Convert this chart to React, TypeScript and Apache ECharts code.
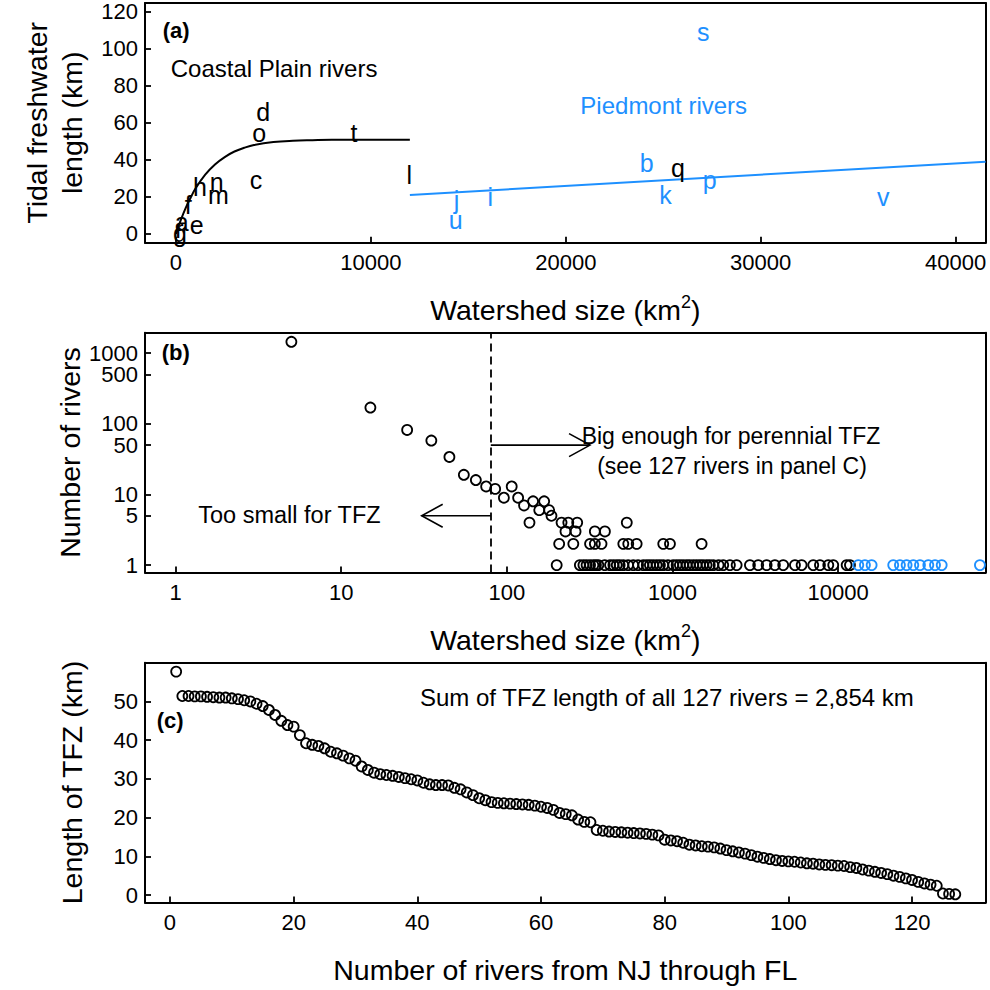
import React, { useEffect, useRef } from "react";
import * as echarts from "echarts";

const FONT = "'Liberation Sans', Arial, Helvetica, sans-serif";
const BLUE = "#1E90FF";

// ---------- Panel (a): tidal freshwater length vs watershed size ----------
const coastalLetters = ["a", "c", "d", "e", "f", "g", "h", "l", "m", "n", "o", "q", "r", "t"];
const coastalArea = [292, 4105, 4479, 1062, 631, 205, 1231, 11970, 2170, 2088, 4274, 25757, 170, 9133];
const coastalTfz = [6.6, 29.1, 66.1, 4.8, 15.6, 0.5, 25.5, 31.8, 21.0, 28.2, 54.4, 35.5, 2.5, 54.4];

const piedmontLetters = ["b", "i", "j", "k", "p", "s", "u", "v"];
const piedmontArea = [24150, 16131, 14392, 25116, 27378, 27050, 14351, 36285];
const piedmontTfz = [38.2, 20.1, 18.3, 21.0, 29.1, 109.3, 7.5, 20.1];

const coastalFitArea = [0, 250, 500, 750, 1000, 1500, 2000, 2500, 3000, 3500, 4000, 5000, 6000, 7000, 8000, 10000, 12000];
const coastalFitTfz = [0, 7.5, 14, 19.5, 24.5, 32, 37.5, 41.5, 44.5, 46.5, 48, 49.6, 50.3, 50.6, 50.8, 50.8, 50.8];
const piedmontFitArea = [12000, 41540];
const piedmontFitTfz = [21.0, 39.0];

const aXTicks = [0, 10000, 20000, 30000, 40000];
const aYTicks = [0, 20, 40, 60, 80, 100, 120];

// ---------- Panel (b): number of rivers vs watershed size (log-log) ----------
const blackSize = [
  5, 15, 25, 35, 45, 55, 65, 75, 85, 107, 96, 117, 127, 144, 168, 157, 180, 186,
  137, 214, 235, 266, 530, 226, 260, 340, 391,
  207, 252, 318, 340, 373, 505, 541, 608, 880, 966, 1500,
  200, 276, 290, 303, 318, 333, 345, 357, 390, 420, 440, 461, 480, 505, 540, 580, 620,
  667, 700, 731, 765, 803, 840, 880, 940, 1011, 1060, 1109, 1160, 1218, 1270, 1336,
  1400, 1466, 1530, 1608, 1680, 1764, 1900, 2026, 2223, 2441, 2937, 3296, 3704, 4156,
  4665, 5492, 6026, 7082, 7776, 8730, 9352, 11270, 11800,
];
const blackCount = [
  1450, 170, 82, 58, 34, 19, 16, 13, 12, 13, 9, 9, 7, 8, 8, 6, 6, 5,
  4, 4, 4, 4, 4, 3, 3, 3, 3,
  2, 2, 2, 2, 2, 2, 2, 2, 2, 2, 2,
  1, 1, 1, 1, 1, 1, 1, 1, 1, 1, 1, 1, 1, 1, 1, 1, 1,
  1, 1, 1, 1, 1, 1, 1, 1, 1, 1, 1, 1, 1, 1, 1,
  1, 1, 1, 1, 1, 1, 1, 1, 1, 1, 1, 1, 1, 1,
  1, 1, 1, 1, 1, 1, 1, 1, 1,
];
const blueSize = [13250, 14530, 15950, 21540, 23640, 25940, 28470, 31240, 35080, 38500, 42250, 71900];
const blueCount = [1, 1, 1, 1, 1, 1, 1, 1, 1, 1, 1, 1];

const bXTicks = [1, 10, 100, 1000, 10000];
const bYTicks = [1, 5, 10, 50, 100, 500, 1000];
const bYLabelsLow = [1, 5, 10, 50, 100, 500];
const bYLabelsTop = [1000];
const tfzThreshold = 80;
const arrowFrom = [80, 80];
const arrowTo = [318, 30.6];
const arrowAt = [50, 5];

// ---------- Panel (c): TFZ length of 127 rivers ----------
const tfzLength = [
  57.7, 51.4, 51.4, 51.3, 51.3, 51.2, 51.1, 51.0, 51.0, 50.8,
  50.6, 50.3, 50.0, 49.4, 48.8, 47.8, 46.5, 45.0, 43.9, 43.5,
  41.3, 39.2, 38.8, 38.5, 37.9, 37.0, 36.6, 36.0, 35.3, 34.7,
  33.2, 32.3, 31.6, 31.2, 31.0, 30.8, 30.5, 30.2, 29.9, 29.6,
  29.0, 28.6, 28.4, 28.4, 28.3, 27.7, 27.3, 26.5, 25.8, 25.0,
  24.5, 24.0, 23.8, 23.7, 23.6, 23.5, 23.4, 23.3, 23.1, 22.8,
  22.5, 22.0, 21.2, 20.9, 20.6, 19.5, 18.9, 18.8, 16.8, 16.6,
  16.4, 16.3, 16.2, 16.1, 16.0, 15.9, 15.8, 15.6, 15.4, 14.3,
  14.1, 13.9, 13.5, 13.0, 12.8, 12.6, 12.5, 12.3, 12.0, 11.6,
  11.3, 11.0, 10.7, 10.3, 9.9, 9.6, 9.3, 9.0, 8.8, 8.7,
  8.6, 8.4, 8.2, 8.1, 7.9, 7.8, 7.7, 7.6, 7.5, 7.2,
  7.0, 6.6, 6.3, 6.0, 5.7, 5.4, 5.0, 4.7, 4.3, 3.9,
  3.4, 3.0, 2.7, 2.4, 0.4, 0.3, 0.2,
];
const cXTicks = [0, 20, 40, 60, 80, 100, 120];
const cYTicks = [0, 10, 20, 30, 40, 50];

const log10 = (v: number) => Math.log10(v);

export default function App() {
  const ref = useRef<HTMLDivElement>(null);

  useEffect(() => {
    if (!ref.current) return;
    const chart = echarts.init(ref.current, null, { renderer: "svg" });

    const axisLine = { show: true, onZero: false, lineStyle: { color: "#000", width: 2 } };
    const tick = (values: number[]) => ({
      show: true,
      inside: true,
      length: 6,
      customValues: values,
      lineStyle: { color: "#000", width: 1.8 },
    });
    const label = (values: number[], fmt?: (v: number) => string, margin = 8) => ({
      show: true,
      customValues: values,
      hideOverlap: false,
      showMinLabel: true,
      showMaxLabel: true,
      color: "#000",
      fontFamily: FONT,
      fontSize: 22,
      margin,
      formatter: fmt,
    });
    const nameStyle = {
      color: "#000",
      fontFamily: FONT,
      fontSize: 28.5,
      lineHeight: 35,
      rich: { sup: { fontSize: 18, verticalAlign: "top", fontFamily: FONT, color: "#000" } },
    };
    const gridBase = { left: 145, width: 840.6, height: 239.7, containLabel: false };
    const circle = { symbol: "circle", symbolSize: 10 };
    const powFmt = (v: number) => String(Math.round(Math.pow(10, v)));

    // frame axes (top and right sides of each box)
    const frameX = (gi: number, min: number, max: number) => ({
      type: "value",
      gridIndex: gi,
      position: "top",
      min,
      max,
      axisLine,
      axisTick: { show: false },
      axisLabel: { show: false },
      splitLine: { show: false },
    });
    const frameY = (gi: number, min: number, max: number) => ({
      type: "value",
      gridIndex: gi,
      position: "right",
      min,
      max,
      axisLine,
      axisTick: { show: false },
      axisLabel: { show: false },
      splitLine: { show: false },
    });
    const named = (name: string, gap: number) => ({
      name,
      nameLocation: "middle",
      nameGap: gap,
      nameMoveOverlap: false,
      nameTextStyle: nameStyle,
    });

    const option: any = {
      animation: false,
      backgroundColor: "#fff",
      grid: [
        { ...gridBase, top: 3 },
        { ...gridBase, top: 332.7 },
        { ...gridBase, top: 662.7 },
      ],
      xAxis: [
        {
          type: "value",
          gridIndex: 0,
          position: "bottom",
          min: -1590,
          max: 41540,
          axisLine,
          splitLine: { show: false },
          axisTick: tick(aXTicks),
          axisLabel: label(aXTicks, (v: number) => String(v), 9),
          ...named("Watershed size (km{sup|2})", 50),
        },
        {
          type: "value",
          gridIndex: 1,
          position: "bottom",
          min: -0.185,
          max: 4.891,
          axisLine,
          splitLine: { show: false },
          axisTick: tick(bXTicks.map(log10)),
          axisLabel: label(bXTicks.map(log10), powFmt, 9),
          ...named("Watershed size (km{sup|2})", 50),
        },
        {
          type: "value",
          gridIndex: 2,
          position: "bottom",
          min: -4.04,
          max: 131.9,
          axisLine,
          splitLine: { show: false },
          axisTick: tick(cXTicks),
          axisLabel: label(cXTicks, (v: number) => String(v), 9),
          ...named("Number of rivers from NJ through FL", 50),
        },
        frameX(0, -1590, 41540),
        frameX(1, -0.185, 4.891),
        frameX(2, -4.04, 131.9),
      ],
      yAxis: [
        {
          type: "value",
          gridIndex: 0,
          position: "left",
          min: -4.8,
          max: 124.8,
          axisLine,
          splitLine: { show: false },
          axisTick: tick(aYTicks),
          axisLabel: label(aYTicks, (v: number) => String(v), 7),
          ...named("Tidal freshwater\nlength (km)", 56),
        },
        {
          type: "value",
          gridIndex: 1,
          position: "left",
          min: -0.103,
          max: 3.29,
          axisLine,
          splitLine: { show: false },
          axisTick: tick(bYTicks.map(log10)),
          axisLabel: label(bYLabelsLow.map(log10), powFmt, 7),
          ...named("Number of rivers", 58),
        },
        {
          type: "value",
          gridIndex: 2,
          position: "left",
          min: -1.9,
          max: 60.0,
          axisLine,
          splitLine: { show: false },
          axisTick: tick(cYTicks),
          axisLabel: label(cYTicks, (v: number) => String(v), 7),
          ...named("Length of TFZ (km)", 56),
        },
        frameY(0, -4.8, 124.8),
        frameY(1, -0.103, 3.29),
        frameY(2, -1.9, 60.0),
        {
          // second label layer for the top label of panel (b), so both 500 and 1000 show
          type: "value",
          gridIndex: 1,
          position: "left",
          offset: 0,
          min: -0.103,
          max: 3.29,
          axisLine: { show: false, onZero: false },
          axisTick: { show: false },
          splitLine: { show: false },
          axisLabel: label(bYLabelsTop.map(log10), powFmt, 7),
        },
      ],
      series: [
        // Panel a: fitted curves
        {
          type: "line",
          xAxisIndex: 0,
          yAxisIndex: 0,
          data: coastalFitArea.map((x, i) => [x, coastalFitTfz[i]]),
          smooth: 0.4,
          showSymbol: false,
          symbol: "none",
          lineStyle: { color: "#000", width: 2 },
          z: 2,
        },
        {
          type: "line",
          xAxisIndex: 0,
          yAxisIndex: 0,
          data: piedmontFitArea.map((x, i) => [x, piedmontFitTfz[i]]),
          showSymbol: false,
          symbol: "none",
          lineStyle: { color: BLUE, width: 2 },
          z: 2,
        },
        // Panel a: river letters
        {
          type: "scatter",
          xAxisIndex: 0,
          yAxisIndex: 0,
          symbolSize: 0,
          itemStyle: { opacity: 1 },
          data: coastalArea.map((x, i) => [x, coastalTfz[i], coastalLetters[i]]),
          label: {
            show: true,
            position: "inside",
            formatter: (p: any) => p.value[2],
            fontFamily: FONT,
            fontSize: 25,
            color: "#000",
            textBorderWidth: 0,
          },
          z: 3,
        },
        {
          type: "scatter",
          xAxisIndex: 0,
          yAxisIndex: 0,
          symbolSize: 0,
          itemStyle: { opacity: 1 },
          data: piedmontArea.map((x, i) => [x, piedmontTfz[i], piedmontLetters[i]]),
          label: {
            show: true,
            position: "inside",
            formatter: (p: any) => p.value[2],
            fontFamily: FONT,
            fontSize: 25,
            color: BLUE,
            textBorderWidth: 0,
          },
          z: 3,
        },
        // Panel b
        {
          type: "scatter",
          xAxisIndex: 1,
          yAxisIndex: 1,
          ...circle,
          data: blackSize.map((x, i) => [log10(x), log10(blackCount[i])]),
          itemStyle: { color: "rgba(0,0,0,0)", borderColor: "#000", borderWidth: 1.8, opacity: 1 },
          markLine: {
            silent: true,
            symbol: ["none", "none"],
            label: { show: false },
            lineStyle: { color: "#000", width: 1.8, type: [8, 5] },
            data: [{ xAxis: log10(tfzThreshold) }],
          },
        },
        {
          type: "scatter",
          xAxisIndex: 1,
          yAxisIndex: 1,
          ...circle,
          data: blueSize.map((x, i) => [log10(x), log10(blueCount[i])]),
          itemStyle: { color: "rgba(0,0,0,0)", borderColor: BLUE, borderWidth: 1.8, opacity: 1 },
        },
        {
          type: "custom",
          xAxisIndex: 1,
          yAxisIndex: 1,
          data: arrowFrom.map((x, i) => [log10(x), log10(arrowAt[i]), log10(arrowTo[i])]),
          renderItem: (params: any, api: any) => {
            const y = api.value(1);
            const p1 = api.coord([api.value(0), y]);
            const p2 = api.coord([api.value(2), y]);
            const dir = Math.sign(p2[0] - p1[0]);
            const hl = 21;
            const hw = 11.5;
            return {
              type: "group",
              children: [
                {
                  type: "line",
                  shape: { x1: p1[0], y1: p1[1], x2: p2[0], y2: p2[1] },
                  style: { stroke: "#000", lineWidth: 1.6 },
                },
                {
                  type: "polyline",
                  shape: {
                    points: [
                      [p2[0] - dir * hl, p2[1] - hw],
                      [p2[0], p2[1]],
                      [p2[0] - dir * hl, p2[1] + hw],
                    ],
                  },
                  style: { stroke: "#000", fill: "none", lineWidth: 1.6 },
                },
              ],
            };
          },
        },
        // Panel c
        {
          type: "scatter",
          xAxisIndex: 2,
          yAxisIndex: 2,
          ...circle,
          data: tfzLength.map((v, i) => [i + 1, v]),
          itemStyle: { color: "rgba(0,0,0,0)", borderColor: "#000", borderWidth: 1.8, opacity: 1 },
        },
      ],
      graphic: [
        { type: "text", x: 162.7, y: 30, style: { text: "(a)", fontFamily: FONT, fontSize: 22, fontWeight: "bold", fill: "#000", align: "left", verticalAlign: "middle" } },
        { type: "text", x: 170.7, y: 68, style: { text: "Coastal Plain rivers", fontFamily: FONT, fontSize: 24, fill: "#000", align: "left", verticalAlign: "middle" } },
        { type: "text", x: 663.7, y: 105, style: { text: "Piedmont rivers", fontFamily: FONT, fontSize: 24, fill: BLUE, align: "center", verticalAlign: "middle" } },
        { type: "text", x: 161.7, y: 352, style: { text: "(b)", fontFamily: FONT, fontSize: 22, fontWeight: "bold", fill: "#000", align: "left", verticalAlign: "middle" } },
        { type: "text", x: 731, y: 436, style: { text: "Big enough for perennial TFZ", fontFamily: FONT, fontSize: 23, fill: "#000", align: "center", verticalAlign: "middle" } },
        { type: "text", x: 732, y: 466, style: { text: "(see 127 rivers in panel C)", fontFamily: FONT, fontSize: 23, fill: "#000", align: "center", verticalAlign: "middle" } },
        { type: "text", x: 198.3, y: 515, style: { text: "Too small for TFZ", fontFamily: FONT, fontSize: 23.5, fill: "#000", align: "left", verticalAlign: "middle" } },
        { type: "text", x: 156.7, y: 720, style: { text: "(c)", fontFamily: FONT, fontSize: 22, fontWeight: "bold", fill: "#000", align: "left", verticalAlign: "middle" } },
        { type: "text", x: 420, y: 697, style: { text: "Sum of TFZ length of all 127 rivers = 2,854 km", fontFamily: FONT, fontSize: 24, fill: "#000", align: "left", verticalAlign: "middle" } },
      ],
    };

    chart.setOption(option);
    return () => chart.dispose();
  }, []);

  return (
    <div
      ref={ref}
      style={{ position: "absolute", left: 0, top: 0, width: 990, height: 990, background: "#fff" }}
    />
  );
}
